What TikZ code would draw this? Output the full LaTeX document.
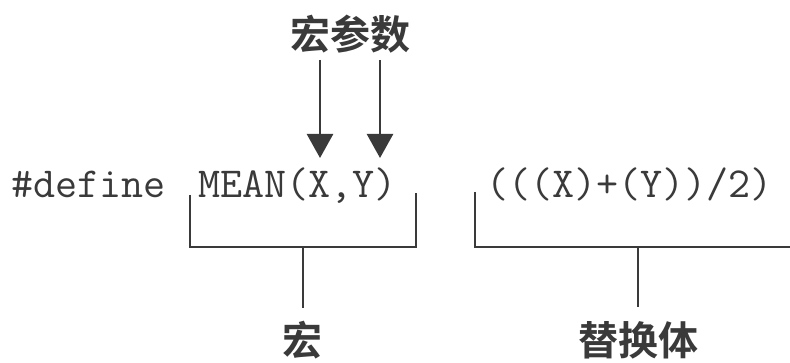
\documentclass[tikz,border=0pt]{standalone}
\usepackage{fontspec}
\newfontfamily\cjk{Noto Sans CJK SC}[BoldFont={Noto Sans CJK SC Bold}]
\usetikzlibrary{arrows.meta}
\definecolor{ink}{HTML}{3A3A3A}
\begin{document}
\begin{tikzpicture}[x=1pt,y=-1pt,
  code/.style={inner sep=0pt,anchor=base west,text=ink,font=\ttfamily\fontsize{42.8}{44}\selectfont},
  label/.style={inner sep=0pt,text=ink,font=\cjk\bfseries\fontsize{40}{44}\selectfont},
  line/.style={draw=ink,line width=2.6pt},
  arr/.style={line,-{Triangle[width=26pt,length=24pt]}}]
\useasboundingbox[fill=white] (0,0) rectangle (790,363);
\node[code] (def) at (11,198) {\#define};
\node[code] (mac) at (198,198) {MEAN(X,Y)};
\node[code] (body) at (486,198) {(((X)+(Y))/2)};
\node[label] (args) at (350,34) {宏参数};
\node[label] (macro) at (302,340) {宏};
\node[label] (repl) at (638,340) {替换体};
\coordinate (a1) at (320,60);
\coordinate (a2) at (380,60);
\coordinate (x) at (320,158);
\coordinate (y) at (380,158);
\draw[arr] (a1) -- (x);
\draw[arr] (a2) -- (y);
\coordinate (m1) at (190,195);
\coordinate (m2) at (416,193);
\coordinate (mb) at (303,247);
\coordinate (ms) at (303,308);
\draw[line] (m1) |- (mb) -| (m2);
\draw[line] (mb) -- (ms);
\coordinate (b1) at (475,192);
\coordinate (bb) at (638,247);
\coordinate (bs) at (638,307);
\coordinate (be) at (790,247);
\draw[line] (b1) |- (be);
\draw[line] (bb) -- (bs);
\end{tikzpicture}
\end{document}
